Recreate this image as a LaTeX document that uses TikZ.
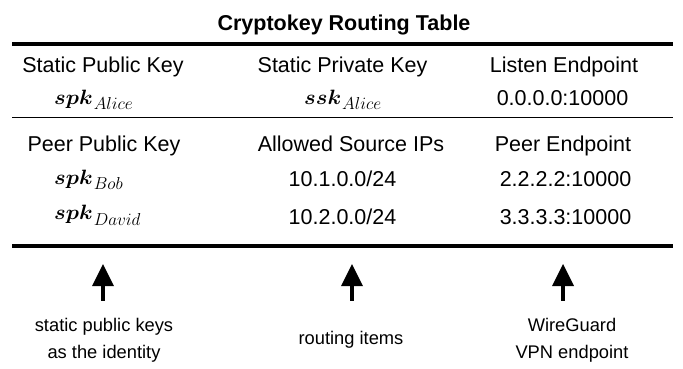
\documentclass[tikz,border=0pt]{standalone}
\usepackage{amsmath}
\usepackage{graphicx}
\usepackage{fontspec}
\setmainfont{Liberation Sans}
\usetikzlibrary{arrows.meta}

\tikzset{
  cell/.style={anchor=base, inner sep=0pt, font=\fontsize{21.5}{26}\selectfont},
  keycell/.style={anchor=base west, inner sep=0pt},
  title/.style={cell, font=\fontsize{21.5}{26}\selectfont\bfseries},
  note/.style={anchor=base, inner sep=0pt, font=\fontsize{18.3}{26.3}\selectfont, align=center},
  thickrule/.style={line width=4pt},
  thinrule/.style={line width=1.8pt},
  pointer/.style={line width=4pt, -{Triangle[width=22pt,length=22pt,line width=0pt]}},
}
% key name in bold math italic with an italic owner subscript
\newcommand{\key}[2]{%
  \mbox{\fontsize{20.74}{24}\selectfont\scalebox{1.06}[1]{$\boldsymbol{#1}$}}%
  \kern1pt
  \raisebox{-5.5pt}{\fontsize{17.28}{20}\selectfont$#2$}}

\begin{document}
\begin{tikzpicture}[x=1pt,y=-1pt]
  \useasboundingbox (0,0) rectangle (683,368);

  % title
  \node[title] (ttl) at (344,30.5) {Cryptokey Routing Table};

  % horizontal rules
  \coordinate (r1l) at (12,43.5);   \coordinate (r1r) at (673,43.5);
  \coordinate (r2l) at (12,117.5);  \coordinate (r2r) at (673,117.5);
  \coordinate (r3l) at (12,245.5);  \coordinate (r3r) at (673,245.5);
  \draw[thickrule] (r1l) -- (r1r);
  \draw[thinrule]  (r2l) -- (r2r);
  \draw[thickrule] (r3l) -- (r3r);

  % interface section
  \node[cell] (h1) at (103,72) {Static Public Key};
  \node[cell] (h2) at (342.5,72) {Static Private Key};
  \node[cell] (h3) at (564,72) {Listen Endpoint};
  \node[keycell] (v1) at (54,104) {\key{spk}{Alice}};
  \node[keycell] (v2) at (304,104) {\key{ssk}{Alice}};
  \node[cell] (v3) at (562.5,105) {0.0.0.0:10000};

  % peer section
  \node[cell] (p1) at (104,151) {Peer Public Key};
  \node[cell] (p2) at (351,151) {Allowed Source IPs};
  \node[cell] (p3) at (563,151) {Peer Endpoint};
  \node[keycell] (b1) at (54,184) {\key{spk}{Bob}};
  \node[cell] (b2) at (342.5,186.5) {10.1.0.0/24};
  \node[cell] (b3) at (565.5,186.5) {2.2.2.2:10000};
  \node[keycell] (d1) at (54,219.5) {\key{spk}{David}};
  \node[cell] (d2) at (342.5,224) {10.2.0.0/24};
  \node[cell] (d3) at (565.5,224) {3.3.3.3:10000};

  % annotations
  \node[note] (n1) at (104,358) {static public keys\\as the identity};
  \node[note] (n2) at (351,344) {routing items};
  \node[note] (n3) at (572,358) {WireGuard\\VPN endpoint};

  \coordinate (a1s) at (103,300.7); \coordinate (a1e) at (103,264);
  \coordinate (a2s) at (352,300.7); \coordinate (a2e) at (352,264);
  \coordinate (a3s) at (563,300.7); \coordinate (a3e) at (563,264);
  \draw[pointer] (a1s) -- (a1e);
  \draw[pointer] (a2s) -- (a2e);
  \draw[pointer] (a3s) -- (a3e);
\end{tikzpicture}
\end{document}
